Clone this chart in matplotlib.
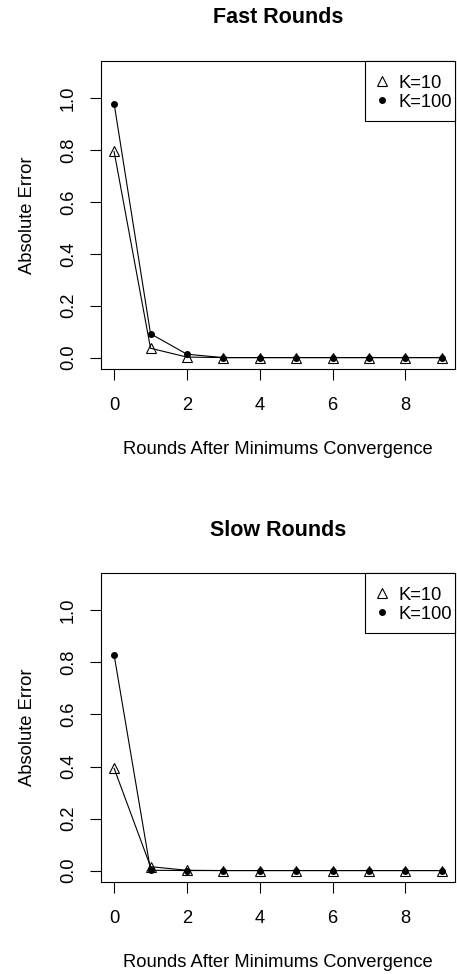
import matplotlib
matplotlib.use("Agg")
import matplotlib.pyplot as plt
from matplotlib.lines import Line2D
from matplotlib.patches import Rectangle

plt.rcParams['font.family'] = ['Liberation Sans', 'DejaVu Sans']

rounds = list(range(10))
fast_k10 = [0.795, 0.036, 0.002, 0, 0, 0, 0, 0, 0, 0]
fast_k100 = [0.98, 0.092, 0.013, 0, 0, 0, 0, 0, 0, 0]
slow_k10 = [0.393, 0.015, 0.001, 0, 0, 0, 0, 0, 0, 0]
slow_k100 = [0.829, 0.001, 0.0, 0, 0, 0, 0, 0, 0, 0]
titles = ["Fast Rounds", "Slow Rounds"]
series_labels = ["K=10", "K=100"]
xticks = [0, 2, 4, 6, 8]
yticks = [0.0, 0.2, 0.4, 0.6, 0.8, 1.0]

FS = 13.2
fig = plt.figure(figsize=(4.57, 9.74), dpi=100)
W, H = 457, 974
boxes = [(101, 61, 455, 369), (101, 573, 455, 882)]
data = [(fast_k10, fast_k100), (slow_k10, slow_k100)]

for (x0, y0, x1, y1), (k10, k100), title in zip(boxes, data, titles):
    aw, ah = x1 - x0, y1 - y0
    ax = fig.add_axes([x0 / W, 1 - y1 / H, aw / W, ah / H])
    ax.plot(rounds, k10, color='black', lw=0.8, marker='^', markersize=7.5,
            markerfacecolor='none', markeredgecolor='black', markeredgewidth=0.8)
    ax.plot(rounds, k100, color='black', lw=0.8, marker='o', markersize=4,
            markerfacecolor='black', markeredgecolor='black')
    ax.set_xlim(-0.36, 9.36)
    ax.set_ylim(-0.044, 1.144)
    ax.set_xticks(xticks)
    ax.set_yticks(yticks)
    ax.set_yticklabels([f"{v:.1f}" for v in yticks], rotation=90, va='center')
    ax.tick_params(axis='both', direction='out', length=7.8, width=0.8,
                   labelsize=FS)
    ax.tick_params(axis='x', pad=12.5)
    ax.tick_params(axis='y', pad=9.5)
    for s in ax.spines.values():
        s.set_linewidth(0.8)
        s.set_color('black')
    ax.set_title(title, fontsize=15.5, fontweight='bold', pad=27)
    ax.set_xlabel("Rounds After Minimums Convergence", fontsize=FS, labelpad=19)
    ax.set_ylabel("Absolute Error", fontsize=FS, labelpad=17.5)

    # legend frame (R-style box in the top-right corner)
    fw, fh = 90, 60
    ax.add_patch(Rectangle((1 - fw / aw, 1 - fh / ah), fw / aw, fh / ah,
                           transform=ax.transAxes, facecolor='white',
                           edgecolor='black', lw=0.8, zorder=4, clip_on=False))
    handles = [
        Line2D([], [], linestyle='none', marker='^', markersize=7.5,
               markerfacecolor='none', markeredgecolor='black', markeredgewidth=0.8),
        Line2D([], [], linestyle='none', marker='o', markersize=4,
               markerfacecolor='black', markeredgecolor='black'),
    ]
    leg = ax.legend(handles, series_labels, loc='upper left',
                    bbox_to_anchor=((aw - fw + 9) / aw, 1 - 12 / ah),
                    borderaxespad=0, borderpad=0, frameon=False, fontsize=FS,
                    handlelength=0.85, handleheight=1.1, handletextpad=0.51,
                    labelspacing=0.0)
    leg.set_zorder(5)

fig.savefig("out.png", dpi=100)
